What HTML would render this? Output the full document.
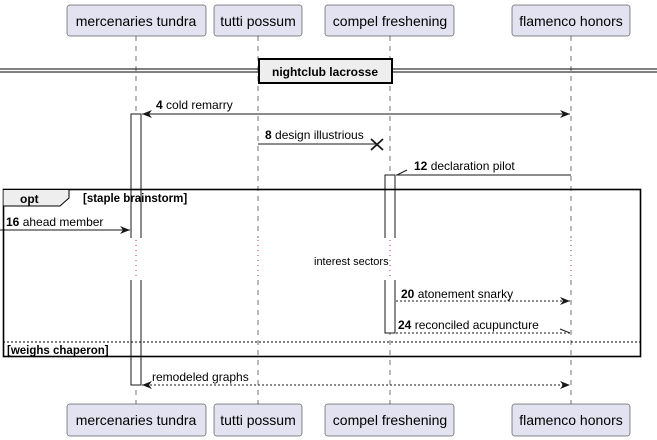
<!DOCTYPE html>
<html><head><meta charset="utf-8"><style>
html,body{margin:0;padding:0;background:#fff;}
svg{display:block;font-family:"Liberation Sans",sans-serif;}
</style></head><body>
<svg width="657" height="440" viewBox="0 0 657 440" xmlns="http://www.w3.org/2000/svg">
<defs>
<marker id="ar" viewBox="0 0 10 10" refX="10" refY="5" markerWidth="10" markerHeight="10" orient="auto-start-reverse" markerUnits="userSpaceOnUse">
<path d="M0,1 L10,5 L0,9 L3,5 Z" fill="#181818"/></marker>
</defs>
<g stroke="#181818" stroke-width="0.6" stroke-dasharray="5,5" fill="none">
<line x1="136" y1="36" x2="136" y2="238"/><line x1="136" y1="280" x2="136" y2="404"/>
<line x1="258" y1="36" x2="258" y2="238"/><line x1="258" y1="280" x2="258" y2="404"/>
<line x1="390" y1="36" x2="390" y2="238"/><line x1="390" y1="280" x2="390" y2="404"/>
<line x1="571" y1="36" x2="571" y2="238"/><line x1="571" y1="280" x2="571" y2="404"/>
</g>
<g stroke="#a80036" stroke-width="0.8" stroke-dasharray="1,4">
<line x1="136" y1="240" x2="136" y2="280"/><line x1="258" y1="240" x2="258" y2="280"/>
<line x1="390" y1="240" x2="390" y2="280"/><line x1="571" y1="240" x2="571" y2="280"/>
</g>
<g fill="#e2e2f0" stroke="#181818" stroke-width="0.5">
<rect x="67" y="5" width="139" height="31" rx="2.5"/><rect x="214" y="5" width="88" height="31" rx="2.5"/>
<rect x="325" y="5" width="129" height="31" rx="2.5"/><rect x="512" y="5" width="118" height="31" rx="2.5"/>
<rect x="67" y="404" width="139" height="32" rx="2.5"/><rect x="214" y="404" width="88" height="32" rx="2.5"/>
<rect x="325" y="404" width="129" height="32" rx="2.5"/><rect x="512" y="404" width="118" height="32" rx="2.5"/>
</g>
<g font-size="14" fill="#000" text-anchor="middle">
<text x="136" y="26">mercenaries tundra</text><text x="258" y="26">tutti possum</text>
<text x="390" y="26">compel freshening</text><text x="571" y="26">flamenco honors</text>
<text x="136" y="425">mercenaries tundra</text><text x="258" y="425">tutti possum</text>
<text x="390" y="425">compel freshening</text><text x="571" y="425">flamenco honors</text>
</g>
<g stroke="#000" stroke-width="1">
<line x1="0" y1="69" x2="657" y2="69"/><line x1="0" y1="72" x2="657" y2="72"/>
</g>
<rect x="259" y="59" width="133" height="24" fill="#eee" stroke="#000" stroke-width="2"/>
<text x="325" y="76" font-size="12" font-weight="bold" text-anchor="middle">nightclub lacrosse</text>
<g fill="#fff" stroke="#181818" stroke-width="1">
<path d="M131,238 V114 H141 V238 M131,280 V385 H141 V280"/>
<path d="M385,238 V175 H395 V238 M385,280 V333 H395 V280"/>
</g>
<g stroke="#181818" stroke-width="1" fill="none">
<line x1="142" y1="114" x2="570" y2="114" marker-start="url(#ar)" marker-end="url(#ar)"/>
<line x1="258" y1="144" x2="376" y2="144"/>
<path d="M371,139 L383,150 M383,139 L371,150" stroke-width="1.8"/>
<line x1="396" y1="175" x2="571" y2="175"/>
<line x1="397" y1="175" x2="407" y2="170"/>
<line x1="0" y1="230" x2="130" y2="230" marker-end="url(#ar)"/>
<line x1="396" y1="301" x2="570" y2="301" stroke-dasharray="2,2" marker-end="url(#ar)"/>
<line x1="396" y1="333" x2="570" y2="333" stroke-dasharray="2,2"/>
<line x1="560" y1="329" x2="570" y2="333"/>
<line x1="142" y1="385" x2="570" y2="385" stroke-dasharray="2,2" marker-start="url(#ar)" marker-end="url(#ar)"/>
</g>
<g font-size="12" fill="#000">
<text x="156" y="109"><tspan font-weight="bold">4</tspan> cold remarry</text>
<text x="265" y="139"><tspan font-weight="bold">8</tspan> design illustrious</text>
<text x="414" y="170"><tspan font-weight="bold">12</tspan> declaration pilot</text>
<text x="6" y="226"><tspan font-weight="bold">16</tspan> ahead member</text>
<text x="401" y="298"><tspan font-weight="bold">20</tspan> atonement snarky</text>
<text x="398" y="329"><tspan font-weight="bold">24</tspan> reconciled acupuncture</text>
<text x="152" y="381">remodeled graphs</text>
<text x="314" y="265" font-size="11">interest sectors</text>
</g>
<rect x="3.5" y="189.5" width="637" height="167" fill="none" stroke="#000" stroke-width="1.6"/>
<path d="M3.5,189.5 H69 V198 L60,206 H3.5" fill="#eee" stroke="#000" stroke-width="1"/>
<text x="20" y="203" font-size="12" font-weight="bold">opt</text>
<text x="83" y="202" font-size="11.5" font-weight="bold">[staple brainstorm]</text>
<line x1="3" y1="342" x2="640" y2="342" stroke="#000" stroke-width="1" stroke-dasharray="2,2"/>
<text x="7" y="354" font-size="11.5" font-weight="bold">[weighs chaperon]</text>
</svg>
</body></html>
